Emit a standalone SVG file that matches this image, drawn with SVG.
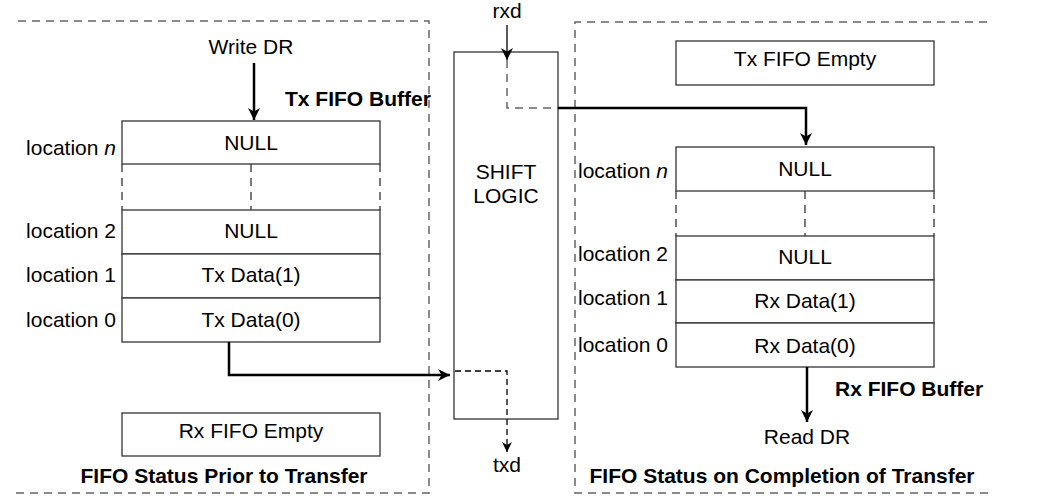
<svg xmlns="http://www.w3.org/2000/svg" width="1059" height="499" viewBox="0 0 1059 499">
<style>
text{font-family:"Liberation Sans",Arial,sans-serif;font-size:21px;fill:#000}
.b{font-weight:bold}
.m{text-anchor:middle}
.e{text-anchor:end}
.box{fill:#fff;stroke:#333;stroke-width:1.3}
.frame{fill:none;stroke:#666;stroke-width:1.5;stroke-dasharray:8 6}
.dl{fill:none;stroke:#333;stroke-width:1.3;stroke-dasharray:8 6}
.dg{fill:none;stroke:#666;stroke-width:1.5;stroke-dasharray:8 6}
.w{fill:none;stroke:#000;stroke-width:2.5}
</style>
<defs>
<marker id="ah" viewBox="0 0 10 10" refX="10" refY="5" markerWidth="10" markerHeight="10" markerUnits="userSpaceOnUse" orient="auto"><path d="M0,0 L10,5 L0,10 L3,5 z" fill="#000"/></marker>
<marker id="ahb" viewBox="0 0 10 10" refX="10" refY="5" markerWidth="14" markerHeight="12" markerUnits="userSpaceOnUse" orient="auto"><path d="M0,0 L10,5 L0,10 L3,5 z" fill="#000"/></marker>
</defs>
<rect width="1059" height="499" fill="#fff"/>

<g id="frame-prior">
<path class="frame" d="M18,21 H429 V493 H16"/>
<text class="b m" x="224" y="483">FIFO Status Prior to Transfer</text>
</g>
<g id="frame-completion">
<path class="frame" d="M987,22 H575 V493 H988"/>
<text class="b m" x="782" y="483">FIFO Status on Completion of Transfer</text>
</g>

<g id="tx-fifo">
<rect class="box" x="122" y="121" width="258" height="43"/>
<text class="m" x="251" y="150">NULL</text>
<path class="dl" d="M122,164 V210 M251,164 V210 M380,164 V210"/>
<rect class="box" x="122" y="210" width="258" height="44"/>
<text class="m" x="251" y="238">NULL</text>
<rect class="box" x="122" y="254" width="258" height="44"/>
<text class="m" x="251" y="282">Tx Data(1)</text>
<rect class="box" x="122" y="298" width="258" height="44"/>
<text class="m" x="251" y="327">Tx Data(0)</text>
<text class="e" x="116" y="155">location <tspan font-style="italic">n</tspan></text>
<text class="e" x="116" y="238">location 2</text>
<text class="e" x="116" y="282">location 1</text>
<text class="e" x="116" y="327">location 0</text>
<text class="b" x="285" y="106">Tx FIFO Buffer</text>
<text class="m" x="251" y="54">Write DR</text>
</g>

<g id="rx-empty">
<rect class="box" x="122" y="413" width="258" height="43"/>
<text class="m" x="251" y="438">Rx FIFO Empty</text>
</g>

<g id="shift-logic">
<rect class="box" x="454" y="52" width="104" height="367"/>
<text class="m" x="506" y="179">SHIFT</text>
<text class="m" x="506" y="203">LOGIC</text>
<text class="m" x="507" y="18">rxd</text>
<text class="m" x="507" y="472">txd</text>
</g>

<g id="tx-empty">
<rect class="box" x="676" y="41" width="258" height="44"/>
<text class="m" x="805" y="66">Tx FIFO Empty</text>
</g>

<g id="rx-fifo">
<rect class="box" x="676" y="147" width="258" height="44"/>
<text class="m" x="805" y="176">NULL</text>
<path class="dl" d="M676,191 V236 M805,191 V236 M934,191 V236"/>
<rect class="box" x="676" y="236" width="258" height="44"/>
<text class="m" x="805" y="264">NULL</text>
<rect class="box" x="676" y="280" width="258" height="43"/>
<text class="m" x="805" y="308">Rx Data(1)</text>
<rect class="box" x="676" y="323" width="258" height="44"/>
<text class="m" x="805" y="353">Rx Data(0)</text>
<text x="578" y="178">location <tspan font-style="italic">n</tspan></text>
<text x="578" y="261">location 2</text>
<text x="578" y="305">location 1</text>
<text x="578" y="352">location 0</text>
<text class="b" x="835" y="396">Rx FIFO Buffer</text>
<text class="m" x="807" y="444">Read DR</text>
</g>

<g id="connectors">
<path class="w" d="M254,63 V120" marker-end="url(#ahb)"/>
<path class="w" d="M229,342 V375 H450" marker-end="url(#ahb)"/>
<path fill="none" stroke="#000" stroke-width="1.3" stroke-dasharray="6 4" d="M455,371 H507 V452" marker-end="url(#ah)"/>
<path fill="none" stroke="#000" stroke-width="1.3" d="M507,25 V60" marker-end="url(#ahb)"/>
<path class="dg" d="M507,60 V108 H558"/>
<path class="w" d="M558,108 H806 V145" marker-end="url(#ahb)"/>
<path class="w" d="M807,367 V422" marker-end="url(#ahb)"/>
</g>
</svg>
